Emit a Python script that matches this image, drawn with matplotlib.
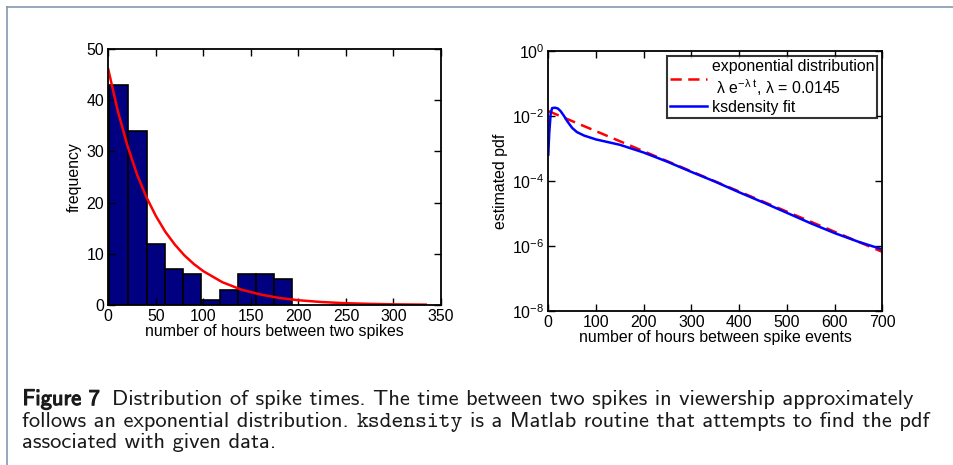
import matplotlib
matplotlib.use('Agg')
import matplotlib.pyplot as plt
import matplotlib.ticker as mticker
import matplotlib.patheffects as pe
from matplotlib.lines import Line2D

plt.rcParams['font.family'] = ['Liberation Sans', 'DejaVu Sans']
plt.rcParams['mathtext.fontset'] = 'custom'
plt.rcParams['mathtext.rm'] = 'Liberation Sans'
plt.rcParams['mathtext.it'] = 'Liberation Sans:italic'
plt.rcParams['mathtext.bf'] = 'Liberation Sans:bold'

# left panel: histogram of hours between spikes
bin_edges = [1, 21, 40.5, 60, 79, 98, 117, 136, 155, 174.5, 193.5]
counts = [43, 34, 12, 7, 6, 1, 3, 6, 6, 5]
fit_x = [0, 10, 20, 30, 40, 50, 60, 70, 80, 90, 100, 120, 140, 160, 180, 200, 225, 250, 275, 300, 334]
fit_y = [46, 37.9, 31.2, 25.6, 21.1, 17.4, 14.3, 11.8, 9.7, 8.0, 6.6, 4.45, 3.0, 2.05, 1.38, 0.93, 0.57, 0.35, 0.22, 0.13, 0.07]

# right panel: estimated pdf (log scale)
exp_t = [0, 700]
exp_pdf = [1.42e-2, 6.6e-7]
ks_t = [0, 2, 5, 8, 14, 20, 26, 32, 40, 50, 60, 75, 100, 150, 200, 250, 300, 350, 400, 450, 500, 550, 600, 650, 695]
ks_pdf = [6.5e-4, 3e-3, 1.2e-2, 1.75e-2, 1.8e-2, 1.7e-2, 1.4e-2, 1.05e-2, 6.8e-3, 4.3e-3, 3.2e-3, 2.5e-3,
          1.9e-3, 1.3e-3, 7.5e-4, 3.9e-4, 1.9e-4, 9.5e-5, 4.5e-5, 2.2e-5, 1.05e-5, 5.0e-6, 2.5e-6, 1.35e-6, 8.3e-7]

W, H = 954, 465
FS = 11.4
fig = plt.figure(figsize=(W / 100, H / 100), dpi=100)

def style_axes(ax):
    for s in ax.spines.values():
        s.set_linewidth(1.3)
    ax.tick_params(direction='in', top=True, right=True, length=5, width=1, labelsize=FS, pad=3)

# ---- histogram
ax1 = fig.add_axes([108.3 / W, 1 - 305 / H, (441 - 108.3) / W, (305 - 49) / H])
lefts = bin_edges[:-1]
widths = [b - a for a, b in zip(bin_edges[:-1], bin_edges[1:])]
ax1.bar(lefts, counts, width=widths, align='edge', color='#000080', edgecolor='black', linewidth=1.2)
ax1.plot(fit_x, fit_y, color='#ff0000', lw=1.8)
ax1.set_xlim(0, 350)
ax1.set_ylim(0, 50)
ax1.set_xticks(range(0, 351, 50))
ax1.set_yticks(range(0, 51, 10))
style_axes(ax1)
ax1.set_xlabel('number of hours between two spikes', fontsize=FS, labelpad=0)
ax1.set_ylabel('frequency', fontsize=FS, labelpad=3)

# ---- pdf
ax2 = fig.add_axes([548.3 / W, 1 - 311 / H, (882.3 - 548.3) / W, (311 - 51) / H])
ax2.semilogy(exp_t, exp_pdf, color='#ff0000', lw=1.8, dashes=(4.5, 2.6),
             label='exponential distribution\n' + r' λ e$^{\mathrm{-λ\ t}}$, λ = 0.0145')
ax2.semilogy(ks_t, ks_pdf, color='#0000ff', lw=1.8, label='ksdensity fit')
ax2.set_xlim(0, 700)
ax2.set_ylim(1e-8, 1)
ax2.set_xticks(range(0, 701, 100))
ax2.yaxis.set_major_locator(mticker.FixedLocator([1e-8, 1e-6, 1e-4, 1e-2, 1]))
ax2.yaxis.set_minor_locator(mticker.NullLocator())
style_axes(ax2)
ax2.set_xlabel('number of hours between spike events', fontsize=FS, labelpad=0)
ax2.set_ylabel('estimated pdf', fontsize=FS, labelpad=3)
leg = ax2.legend(loc='upper right', bbox_to_anchor=(1 - 5 / 334, 1 - 5 / 260), fontsize=FS,
                 frameon=True, fancybox=False, handlelength=2.3, handletextpad=0.3,
                 borderpad=0.2, labelspacing=0.1, borderaxespad=0)
leg.get_frame().set_edgecolor('black')
leg.get_frame().set_linewidth(1.5)

# ---- frame around figure
frame_col = '#8497b0'
fig.add_artist(Line2D([7 / W, 1], [1 - 7.5 / H, 1 - 7.5 / H], color=frame_col, lw=1.2))
fig.add_artist(Line2D([7 / W, 7 / W], [0, 1 - 7.5 / H], color=frame_col, lw=1.2))

# ---- caption
cap_size = 16.2
renderer = fig.canvas.get_renderer()
def text_w(s, **kw):
    t = fig.text(0, 0, s, **kw)
    w = t.get_window_extent(renderer).width
    t.remove()
    return w

sans = dict(family='cmss10', size=cap_size, color='#1a1a1a')
mono = dict(family='cmtt10', size=cap_size, color='#1a1a1a')
space = text_w('x x', **sans) - text_w('xx', **sans)

def caption_line(pieces, y):
    x = 22.5
    for txt, kw, gap in pieces:
        t = fig.text(x / W, 1 - y / H, txt, **kw)
        x += t.get_window_extent(renderer).width + gap

bold = dict(sans, path_effects=[pe.withStroke(linewidth=0.8, foreground='#1a1a1a')])
caption_line([('Figure 7', bold, 1.6 * space),
              ('Distribution of spike times. The time between two spikes in viewership approximately', sans, 0)], 405)
caption_line([('follows an exponential distribution.', sans, space),
              ('ksdensity', mono, space),
              ('is a Matlab routine that attempts to find the pdf', sans, 0)], 426.5)
caption_line([('associated with given data.', sans, 0)], 448)

fig.savefig('out.png', dpi=100)
